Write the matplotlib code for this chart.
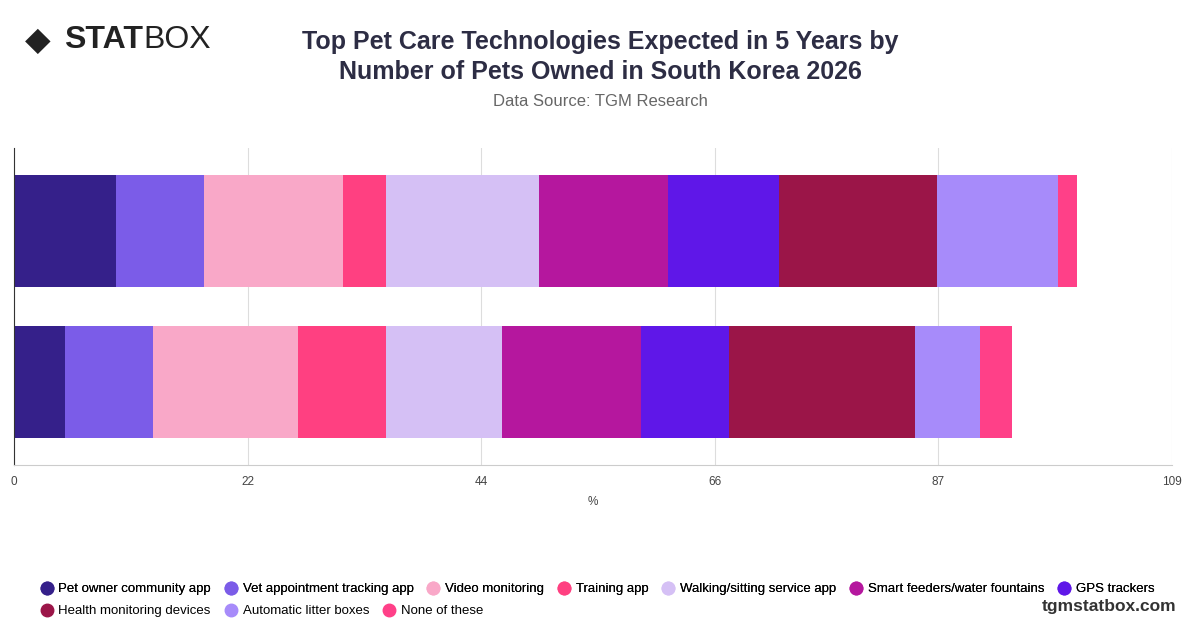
import matplotlib
matplotlib.use("Agg")
import matplotlib.pyplot as plt
from matplotlib.lines import Line2D

plt.rcParams["font.family"] = ["Liberation Sans", "DejaVu Sans"]

groups = ["1 pet", "2+ pets"]
series = ["Pet owner community app", "Vet appointment tracking app", "Video monitoring",
          "Training app", "Walking/sitting service app", "Smart feeders/water fountains",
          "GPS trackers", "Health monitoring devices", "Automatic litter boxes", "None of these"]
values = [
    [9.6, 4.8],
    [8.3, 8.3],
    [13.1, 13.6],
    [4.0, 8.3],
    [14.4, 10.9],
    [12.2, 13.1],
    [10.4, 8.3],
    [14.9, 17.5],
    [11.4, 6.1],
    [1.8, 3.0],
]
colors = ["#35208a", "#7b5ce8", "#f9a8c8", "#ff4081", "#d5c0f5", "#b5179e",
          "#5f17e8", "#9b1548", "#a78bfa", "#ff4088"]
ticks = [0, 22, 44, 66, 87, 109]

fig = plt.figure(figsize=(12, 6.28), dpi=100)
ax = fig.add_axes([14/1200, 1-465/628, (1172-14)/1200, (465-148)/628])

left = [0.0, 0.0]
for s, v, c in zip(series, values, colors):
    ax.barh([0, 1], v, left=left, height=0.74, color=c, label=s)
    left = [a + b for a, b in zip(left, v)]

ax.set_xlim(0, 109)
ax.set_ylim(1.55, -0.55)
ax.set_xticks(ticks)
ax.set_xticklabels([str(t) for t in ticks], fontsize=8.5, color="#444444")
ax.set_yticks([])
ax.grid(axis="x", color="#dddddd", lw=0.8)
ax.set_axisbelow(True)
for sp in ["top", "right"]:
    ax.spines[sp].set_visible(False)
ax.spines["left"].set_color("#333333")
ax.spines["bottom"].set_color("#cccccc")
ax.tick_params(axis="x", length=0, pad=8)
ax.set_xlabel("%", fontsize=8.5, color="#444444", labelpad=6)

fig.text(0.5, 1-42/628, "Top Pet Care Technologies Expected in 5 Years by", ha="center", va="center",
         fontsize=18, fontweight="bold", color="#2d2d44")
fig.text(0.5, 1-72/628, "Number of Pets Owned in South Korea 2026", ha="center", va="center",
         fontsize=18, fontweight="bold", color="#2d2d44")
fig.text(0.5, 1-102/628, "Data Source: TGM Research", ha="center", va="center",
         fontsize=12, color="#666666")
fig.text(25/1200, 1-40/628, "◆", fontsize=24, color="#222222", va="center", ha="left",
         family="DejaVu Sans")
fig.text(64/1200, 1-40/628, "STAT", fontsize=23, fontweight="bold", color="#222222", va="center", ha="left")
fig.text(143/1200, 1-40/628, "BOX", fontsize=23, color="#222222", va="center", ha="left")
fig.text(1176/1200, 1-606/628, "tgmstatbox.com", fontsize=12.5, fontweight="bold", color="#333333",
         ha="right", va="center")

handles = [Line2D([], [], marker="o", ls="none", markersize=9, color=c) for c in colors]
kw = dict(frameon=False, fontsize=9.5, handlelength=1.0, columnspacing=1.0, handletextpad=0.4,
          borderpad=0, borderaxespad=0)
row1 = fig.legend(handles[:7], series[:7], loc="center left", bbox_to_anchor=(40/1200, 1-589/628),
                  ncol=7, **kw)
fig.add_artist(row1)
fig.legend(handles[7:], series[7:], loc="center left", bbox_to_anchor=(40/1200, 1-611/628), ncol=3, **kw)

fig.savefig("out.png", dpi=100)
